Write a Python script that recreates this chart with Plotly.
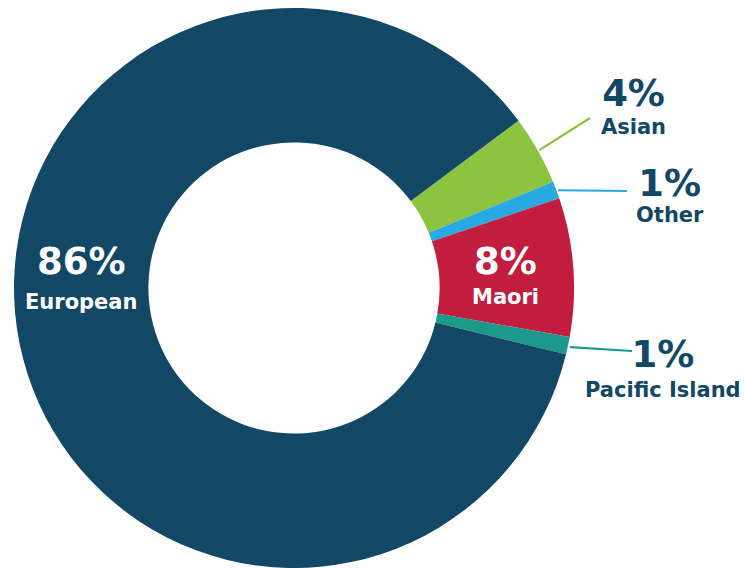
import math
import plotly.graph_objects as go

# Ethnic composition (percent of population)
groups = ["Asian", "Other", "Maori", "Pacific Island", "European"]
shares = [4, 1, 8, 1, 86]
colors = ["#8cc43f", "#27a9e1", "#c21d3e", "#1b9a8b", "#124865"]

NAVY = "#124865"
FONT = "DejaVu Sans"

W, H = 744, 568
cx, cy, R = 294, 289, 281          # donut centre / outer radius in pixels
start_deg = 36.7                   # angle (ccw from 3 o'clock) where the first slice begins

fig = go.Figure(
    go.Pie(
        labels=groups,
        values=shares,
        marker=dict(colors=colors, line=dict(width=0)),
        hole=0.52,
        sort=False,
        direction="clockwise",
        rotation=90 - start_deg,
        textinfo="none",
        hoverinfo="label+percent",
        showlegend=False,
        domain=dict(x=[(cx - R) / W, (cx + R) / W],
                    y=[max(0, (H - cy - R) / H), (H - cy + R) / H]),
    )
)


def px(x):
    return x / W


def py(y):
    return 1 - y / H


# mid-angle of each slice, used to anchor the leader lines on the rim
total = sum(shares)
mids = {}
a = start_deg
for g, v in zip(groups, shares):
    span = 360 * v / total
    mids[g] = a - span / 2
    a -= span


def rim(g, r=R):
    t = math.radians(mids[g])
    return cx + r * math.cos(t), cy - r * math.sin(t)


# leader lines for the small outside-labelled slices: (group, end point)
leaders = [("Asian", (590, 118)), ("Other", (627, 191)), ("Pacific Island", (632, 351))]
shapes = []
for g, (ex, ey) in leaders:
    sx, sy = rim(g, R + 1)
    col = colors[groups.index(g)]
    shapes.append(dict(type="line", xref="paper", yref="paper",
                       x0=px(sx), y0=py(sy), x1=px(ex), y1=py(ey),
                       line=dict(color=col, width=2.2)))


def label(g, x, y, line_gap, color, name_size=21, pct_size=37):
    # percentage on the first line, group name below; line_gap sets baseline spacing
    text = (f'<span style="font-size:{pct_size}px"><b>{shares[groups.index(g)]}%</b></span><br>'
            f'<span style="font-size:{name_size}px"><b>{g}</b></span>')
    return dict(text=text, x=px(x), y=py(y), xref="paper", yref="paper",
                showarrow=False, xanchor="center", yanchor="middle", align="center",
                font=dict(family=FONT, size=line_gap / 1.3, color=color))


annotations = [
    label("European", 81, 277, 35, "white"),
    label("Maori", 506, 274, 30, "white"),
    label("Asian", 633, 106, 28, NAVY),
    label("Other", 670, 194, 26, NAVY),
    label("Pacific Island", 663, 367, 30, NAVY),
]

fig.update_layout(
    width=W,
    height=H,
    margin=dict(l=0, r=0, t=0, b=0),
    paper_bgcolor="white",
    plot_bgcolor="white",
    shapes=shapes,
    annotations=annotations,
)

fig.write_html("out.html")
